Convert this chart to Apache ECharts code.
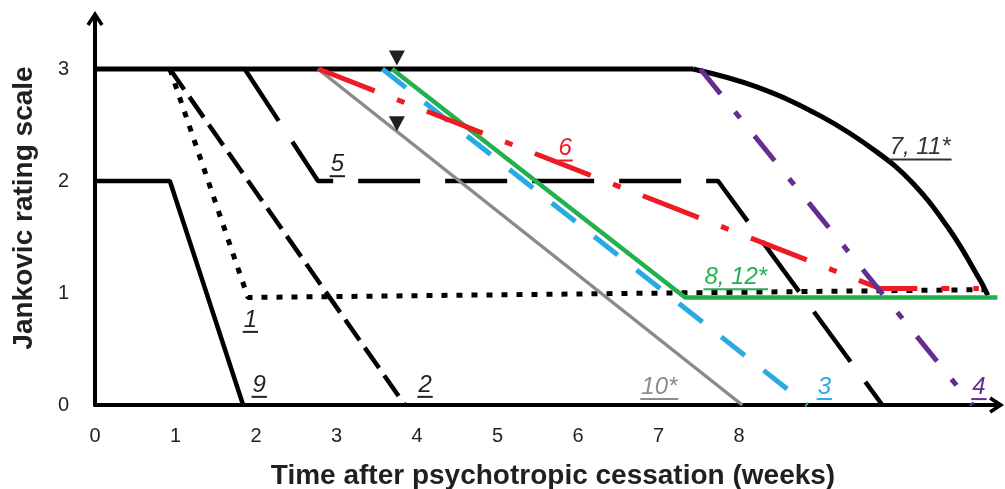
<!DOCTYPE html>
<html><head><meta charset="utf-8">
<script src="https://cdn.jsdelivr.net/npm/echarts@6/dist/echarts.min.js"></script>
<style>html,body{margin:0;padding:0;background:#fff}#c{width:1005px;height:489px}</style>
</head><body><div id="c"></div>
<script>
// ---- data (weeks, Jankovic rating) ----
const xTickMaxLabel = 8;
const yTicks = [0, 1, 2, 3];
const s1 = [[0.93, 3], [1.90, 0.96], [11.06, 1.03]];
const s2 = [[0.93, 3], [3.85, 0]];
const s3 = [[3.57, 3], [8.85, 0]];
const s4 = [[7.52, 3], [10.9, 0]];
const s5 = [[1.86, 3], [2.77, 2], [7.74, 2], [9.78, 0]];
const s6 = [[2.78, 3], [9.75, 1.04], [10.98, 1.04]];
const s7_11 = [[0, 3], [7.43, 3], [8.22, 2.84], [9.04, 2.57], [9.71, 2.26], [10.16, 1.98], [10.62, 1.56], [10.99, 1.12], [11.09, 0.98]];
const s8_12 = [[3.69, 3], [7.33, 0.96], [11.21, 0.96]];
const s9 = [[0, 2], [0.93, 2], [1.84, 0]];
const s10 = [[2.77, 3], [8.04, 0]];
const markers = [[3.75, 3], [3.75, 2.44]];
const labelTexts = ['1', '2', '3', '4', '5', '6', '7, 11*', '8, 12*', '9', '10*'];
const labelAt = [[1.93, 0.76], [4.10, 0.18], [9.06, 0.16], [10.98, 0.16], [3.01, 2.15], [5.84, 2.29], [10.25, 2.30], [7.96, 1.14], [2.04, 0.18], [7.01, 0.16]];
const labelColors = ['#231f20', '#231f20', '#29abe2', '#662d91', '#231f20', '#ed1c24', '#333333', '#22b14c', '#231f20', '#8c8c8c'];

const FONT = '"Liberation Sans", Arial, sans-serif';
const chart = echarts.init(document.getElementById('c'));
const chev = 'path://M0,13 L8.5,0 L17,13 L14,15 L8.5,6.5 L3,15 Z';

function line(data, color, width, type, extra) {
  return Object.assign({
    type: 'line', data: data, symbol: 'none', showSymbol: false, silent: true,
    lineStyle: { color: color, width: width, type: type || 'solid', cap: 'butt' },
    z: 2
  }, extra || {});
}

chart.setOption({
  animation: false,
  grid: { left: 95, right: 8.4, top: 18.6, bottom: 84, containLabel: false },
  xAxis: {
    type: 'value', min: 0, max: 11.2, interval: 1,
    axisLine: { show: true, symbol: ['none', chev], symbolSize: [17, 15], symbolOffset: [0, 0],
      lineStyle: { color: '#000', width: 4 } },
    axisTick: { show: false }, splitLine: { show: false },
    axisLabel: { margin: 21, fontSize: 20, color: '#231f20', fontFamily: FONT,
      formatter: v => (v <= xTickMaxLabel ? String(v) : '') }
  },
  yAxis: {
    type: 'value', min: 0, max: 3.45, interval: 1,
    axisLine: { show: true, symbol: ['none', chev], symbolSize: [17, 15],
      lineStyle: { color: '#000', width: 4 } },
    axisTick: { show: false }, splitLine: { show: false },
    axisLabel: { margin: 26, fontSize: 20, color: '#231f20', fontFamily: FONT,
      formatter: v => (yTicks.indexOf(v) >= 0 ? String(v) : '') }
  },
  series: [
    line(s9, '#000', 4.5),
    line(s2, '#000', 4.5, [25, 9]),
    line(s1, '#000', 5, [6, 9]),
    line(s5, '#000', 4.5, [62, 25]),
    line(s7_11.slice(0, 2), '#000', 5),
    line(s7_11.slice(1), '#000', 5, 'solid', { smooth: 0.4 }),
    line(s10, '#8a8a8a', 3.5),
    line(s3, '#29abe2', 5, [30, 24]),
    line(s8_12, '#22b14c', 4.5),
    line(s6, '#ed1c24', 5, [60, 24, 8, 24]),
    line(s4, '#662d91', 5, [32, 23, 8, 23]),
    {
      type: 'scatter', silent: true, z: 5,
      data: markers.map((m, i) => ({ value: m, symbolOffset: [0, i === 0 ? -11 : -8] })),
      symbol: 'triangle', symbolRotate: 180, symbolSize: [16, 15],
      itemStyle: { color: '#231f20', opacity: 1 }
    }
  ]
});

// labels with underline
const cv = document.createElement('canvas').getContext('2d');
cv.font = 'italic 24px ' + FONT;
const graphics = [];
labelTexts.forEach((t, i) => {
  const p = chart.convertToPixel({ gridIndex: 0 }, labelAt[i]);
  const w = cv.measureText(t).width;
  graphics.push({
    type: 'text', silent: true, z: 10,
    style: { text: t, x: p[0], y: p[1], align: 'center', verticalAlign: 'middle',
      fontSize: 24, fontStyle: 'italic', fontFamily: FONT, fill: labelColors[i] }
  });
  graphics.push({
    type: 'line', silent: true, z: 10,
    shape: { x1: p[0] - w / 2 - 1, y1: p[1] + 12, x2: p[0] + w / 2 + 1, y2: p[1] + 12 },
    style: { stroke: labelColors[i], lineWidth: 2 }
  });
});
graphics.push({
  type: 'text', silent: true,
  style: { text: 'Time after psychotropic cessation (weeks)', x: 553, y: 476, align: 'center',
    verticalAlign: 'middle', fontSize: 28, fontWeight: 'bold', fontFamily: FONT, fill: '#231f20' }
});
graphics.push({
  type: 'text', silent: true, rotation: Math.PI / 2, x: 24, y: 208,
  style: { text: 'Jankovic rating scale', x: 0, y: 0, align: 'center',
    verticalAlign: 'middle', fontSize: 28, fontWeight: 'bold', fontFamily: FONT, fill: '#231f20' }
});
chart.setOption({ graphic: graphics });
</script>
</body></html>
